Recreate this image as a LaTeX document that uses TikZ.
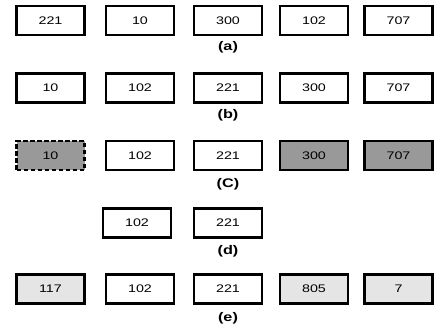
\documentclass[tikz,border=0pt]{standalone}
\usepackage{graphicx}
\usepackage{fontspec}
\setmainfont{Liberation Sans}
\newcommand{\widetext}[1]{\scalebox{1.3}[1]{#1}}
\begin{document}
\begin{tikzpicture}[x=1pt,y=-1pt,
  cell/.style={draw=black, line width=2.6pt, minimum width=68pt, minimum height=29pt,
    inner sep=0pt, font=\fontsize{11}{13}\selectfont, fill=white},
  dark/.style={fill=black!40},
  light/.style={fill=black!10},
  dashcell/.style={dash pattern=on 4.5pt off 2.5pt},
  caption/.style={font=\bfseries\fontsize{12.5}{14}\selectfont, inner sep=0pt}]
\useasboundingbox (0,0) rectangle (434,329);

% row (a)
\node[cell] (a1) at (50.5,20.5) {\widetext{221}};
\node[cell] (a2) at (140,20.5) {\widetext{10}};
\node[cell] (a3) at (228,20.5) {\widetext{300}};
\node[cell] (a4) at (314,20.5) {\widetext{102}};
\node[cell] (a5) at (398.5,20.5) {\widetext{707}};
\node[caption] (la) at (228,47) {\widetext{(a)}};

% row (b)
\node[cell] (b1) at (50.5,88) {\widetext{10}};
\node[cell] (b2) at (140,88) {\widetext{102}};
\node[cell] (b3) at (228,88) {\widetext{221}};
\node[cell] (b4) at (314,88) {\widetext{300}};
\node[cell] (b5) at (398.5,88) {\widetext{707}};
\node[caption] (lb) at (228,115) {\widetext{(b)}};

% row (c)
\node[cell, dark, dashcell] (c1) at (50.5,155.5) {\widetext{10}};
\node[cell] (c2) at (140,155.5) {\widetext{102}};
\node[cell] (c3) at (228,155.5) {\widetext{221}};
\node[cell, dark] (c4) at (314,155.5) {\widetext{300}};
\node[cell, dark] (c5) at (398.5,155.5) {\widetext{707}};
\node[caption] (lc) at (228,184) {\widetext{(C)}};

% row (d)
\node[cell] (d2) at (137,223) {\widetext{102}};
\node[cell] (d3) at (228,223) {\widetext{221}};
\node[caption] (ld) at (228,251) {\widetext{(d)}};

% row (e)
\node[cell, light] (e1) at (50.5,289) {\widetext{117}};
\node[cell] (e2) at (140,289) {\widetext{102}};
\node[cell] (e3) at (228,289) {\widetext{221}};
\node[cell, light] (e4) at (314,289) {\widetext{805}};
\node[cell, light] (e5) at (398.5,289) {\widetext{7}};
\node[caption] (le) at (228,318) {\widetext{(e)}};
\end{tikzpicture}
\end{document}
